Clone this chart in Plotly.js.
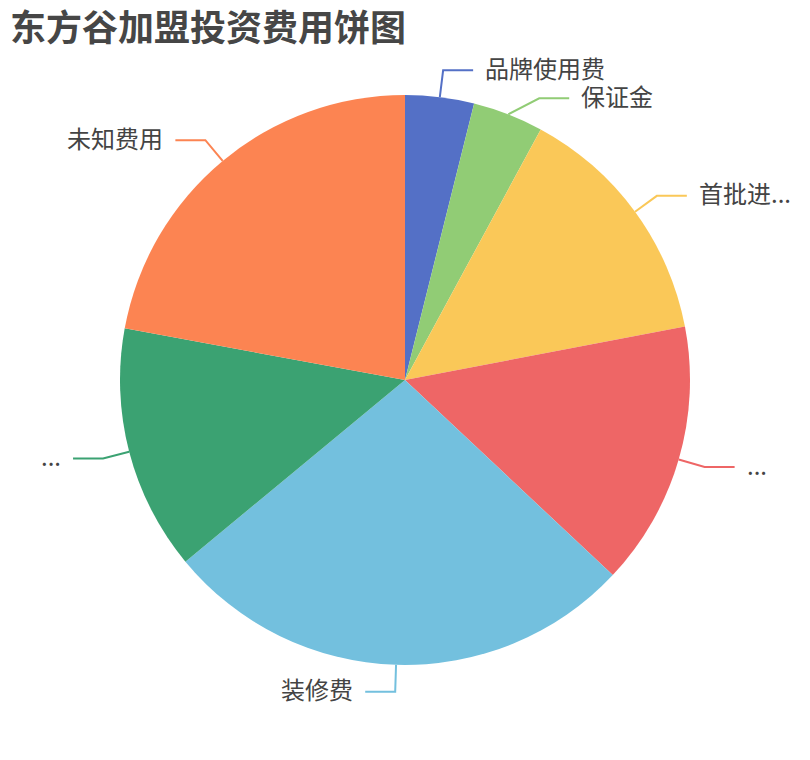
<!DOCTYPE html>
<html>
<head>
<meta charset="utf-8">
<script src="https://cdn.plot.ly/plotly-3.0.1.min.js"></script>
<style>
  html, body { margin: 0; padding: 0; background: #fff; }
  #chart { width: 810px; height: 760px; }
</style>
</head>
<body>
<div id="chart"></div>
<script>
// slices, clockwise from 12 o'clock
const labelTexts = ["品牌使用费", "保证金", "首批进...", "...", "装修费", "...", "未知费用"];
const values = [3.9, 4.0, 14.1, 15.0, 27.0, 13.9, 22.1];
const colors = ["#5470c6", "#91cc75", "#fac858", "#ee6666", "#73c0de", "#3ba272", "#fc8452"];

const W = 810, H = 760;
const cx = 405, cy = 380, r = 285;
const len1 = 27, len2 = 30, gap = 10, lineH = 28;

function px2x(v) { return v / W; }
function px2y(v) { return 1 - v / H; }

// label positions follow the slice angles
function layoutLabels() {
    const total = values.reduce((a, b) => a + b, 0);
    let acc = 0;
    const items = values.map((v, i) => {
        const mid = (acc + v / 2) / total * 2 * Math.PI;
        acc += v;
        const s = Math.sin(mid), c = Math.cos(mid);
        return {
            i: i,
            side: s >= 0 ? 1 : -1,
            ex: cx + r * s, ey: cy - r * c,
            px: cx + (r + len1) * s, py: cy - (r + len1) * c,
            radialX: cx + (r + len1) * s,
            moved: false
        };
    });

    // push overlapping labels down on each side
    [1, -1].forEach(side => {
        const list = items.filter(d => d.side === side).sort((a, b) => a.py - b.py);
        for (let k = 1; k < list.length; k++) {
            const a = list[k - 1], b = list[k];
            if (b.py - a.py < lineH) {
                b.py = a.py + lineH;
                b.moved = true;
            }
        }
        list.forEach(d => {
            if (!d.moved) return;
            const R = r + len1;
            const dy = d.py - cy;
            const off = Math.sqrt(Math.max(0, R * R - dy * dy));
            d.px = side > 0 ? Math.max(d.radialX, cx + off) : Math.min(d.radialX, cx - off);
        });
    });
    return items;
}

const items = layoutLabels();

const shapes = items.map(d => {
    const x2 = d.px + d.side * len2;
    return {
        type: "path",
        xref: "paper", yref: "paper",
        path: "M " + px2x(d.ex) + "," + px2y(d.ey) +
              " L " + px2x(d.px) + "," + px2y(d.py) +
              " L " + px2x(x2) + "," + px2y(d.py),
        line: { color: colors[d.i], width: 2 }
    };
});

const annotations = items.map(d => ({
    xref: "paper", yref: "paper",
    x: px2x(d.px + d.side * (len2 + gap)),
    y: px2y(d.py),
    yshift: 3,
    xanchor: d.side > 0 ? "left" : "right",
    yanchor: "middle",
    text: labelTexts[d.i],
    showarrow: false,
    font: { family: "Noto Sans CJK SC, sans-serif", size: 24, color: "#444444" }
}));

const data = [{
    type: "pie",
    values: values,
    hovertext: labelTexts,
    hoverinfo: "text+percent",
    textinfo: "none",
    sort: false,
    direction: "clockwise",
    rotation: 0,
    marker: { colors: colors, line: { width: 0 } },
    domain: { x: [px2x(cx - r), px2x(cx + r)], y: [1 - (cy + r) / H, 1 - (cy - r) / H] }
}];

const layout = {
    width: W,
    height: H,
    margin: { l: 0, r: 0, t: 0, b: 0 },
    paper_bgcolor: "#ffffff",
    showlegend: false,
    title: {
        text: "<b>东方谷加盟投资费用饼图</b>",
        x: 10 / W, xanchor: "left", xref: "container",
        y: 1 - 28 / H, yanchor: "middle", yref: "container",
        font: { family: "Noto Sans CJK SC, sans-serif", size: 36, color: "#464646" }
    },
    shapes: shapes,
    annotations: annotations
};

Plotly.newPlot("chart", data, layout, { displayModeBar: false });
</script>
</body>
</html>
